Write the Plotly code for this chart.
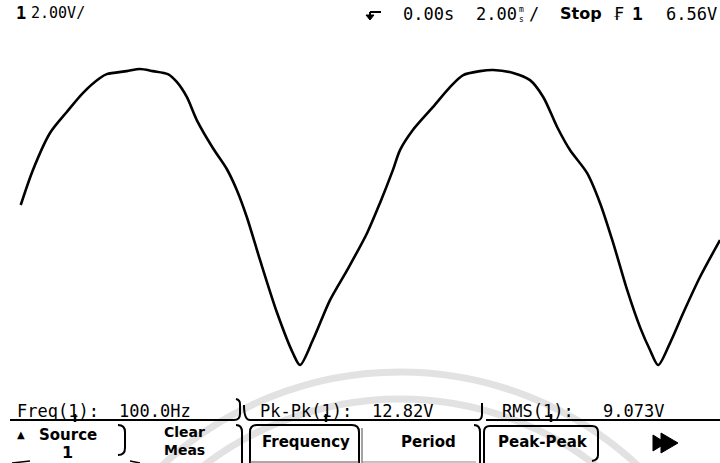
import plotly.graph_objects as go

# ---- data (time in ms, voltage in V) ----
time_ms = [-9.50, -9.16, -8.68, -8.21, -7.76, -7.28, -7.09, -6.53, -6.16, -5.80,
           -5.38, -5.13, -4.85, -4.57, -4.12, -3.73, -3.45, -3.17, -2.80, -2.32,
           -1.88, -1.68, -1.32, -0.84, -0.36, 0.20, 0.56, 0.92, 1.12, 1.48,
           2.04, 2.52, 2.89, 3.36, 3.73, 4.29, 4.76, 5.13, 5.52, 5.88,
           6.36, 6.72, 7.09, 7.48, 7.84, 8.12, 8.35, 8.68, 9.05, 9.52, 10.08]
volts = [8.36, 9.87, 11.48, 12.39, 13.21, 13.86, 14.03, 14.16, 14.25, 14.16,
         14.03, 13.69, 13.04, 12.04, 10.83, 9.92, 9.01, 7.84, 5.98, 3.68,
         1.95, 1.43, 2.51, 4.24, 5.54, 7.15, 8.45, 9.87, 10.74, 11.61,
         12.60, 13.47, 13.99, 14.16, 14.21, 14.08, 13.77, 13.04, 11.74, 10.74,
         9.74, 8.45, 6.71, 4.68, 3.07, 2.08, 1.43, 2.38, 3.68, 5.24, 6.84]

header_left = ["1", "2.00V/"]
header_right = ["0.00s", "2.00", "m", "s", "/", "Stop", "₣", "1", "6.56V"]
meas_labels = ["Freq(1):", "Pk-Pk(1):", "RMS(1):"]
meas_values = ["100.0Hz", "12.82V", "9.073V"]
softkeys = ["Source", "Clear", "Meas", "Frequency", "Period", "Peak-Peak"]

W, H = 720, 463
X_RANGE = [-10.08, 10.08]
Y_RANGE = [-2.815, 17.24]


def px(x):
    return x / W


def py(y):
    return 1 - y / H


fig = go.Figure()
fig.add_trace(go.Scatter(x=time_ms, y=volts, mode="lines",
                         line=dict(color="black", width=2.6, shape="spline", smoothing=0.8),
                         hoverinfo="skip"))

MONO = "DejaVu Sans Mono"
SANS = "DejaVu Sans"
ann = []


def txt(x, y, s, size=17, family=MONO, xanchor="left", bold=False):
    ann.append(dict(x=px(x), y=py(y), xref="paper", yref="paper", text=("<b>%s</b>" % s) if bold else s,
                    showarrow=False, xanchor=xanchor, yanchor="middle",
                    font=dict(family=family, size=size, color="black")))


# header
txt(14, 13, header_left[0], size=17, bold=True)
txt(29, 13, header_left[1], size=15)
txt(401, 14, header_right[0], size=17)
txt(474, 14, header_right[1], size=17)
txt(521, 9, header_right[2], size=8, xanchor="center")
txt(521, 19, header_right[3], size=8, xanchor="center")
txt(527, 14, header_right[4], size=17)
txt(558, 14, header_right[5], size=16, family=SANS, bold=True)
txt(611, 14, header_right[6], size=17, family=SANS)
txt(630, 14, header_right[7], size=18, bold=True)
txt(664, 14, header_right[8], size=17)

# measurements
txt(15, 411, meas_labels[0])
txt(117, 411, meas_values[0])
txt(258, 411, meas_labels[1])
txt(370, 411, meas_values[1])
txt(500, 411, meas_labels[2])
txt(601, 411, meas_values[2])

# softkeys
txt(15, 434, "▲", size=10, family=SANS)
txt(68, 435, softkeys[0], size=15, family=SANS, xanchor="center", bold=True)
txt(67, 452, "1", size=16, family=SANS, xanchor="center", bold=True)
txt(185, 432, softkeys[1], size=14, family=SANS, xanchor="center", bold=True)
txt(185, 450, softkeys[2], size=14, family=SANS, xanchor="center", bold=True)
txt(306, 442, softkeys[3], size=15, family=SANS, xanchor="center", bold=True)
txt(428, 442, softkeys[4], size=15, family=SANS, xanchor="center", bold=True)
txt(543, 442, softkeys[5], size=15, family=SANS, xanchor="center", bold=True)


def path(pts_str, width=2, color="black", fill=None, layer="above"):
    d = dict(type="path", xref="paper", yref="paper", path=pts_str,
             line=dict(color=color, width=width), layer=layer)
    if fill:
        d["fillcolor"] = fill
    return d


def P(cmds):
    out = []
    for c in cmds:
        if isinstance(c, str):
            out.append(c)
        else:
            out.append("%.5f,%.5f" % (px(c[0]), py(c[1])))
    return " ".join(out)


shapes = []
# watermark rings
for r, cy in [(349, 721), (322, 721)]:
    shapes.append(dict(type="circle", xref="paper", yref="paper",
                       x0=px(400 - r), x1=px(400 + r), y0=py(cy + r), y1=py(cy - r),
                       line=dict(color="#e2e2e2", width=7), layer="below"))

# trigger marker
shapes.append(path(P(["M", (370, 12), "L", (381, 12)]), width=2))
shapes.append(path(P(["M", (366, 15), "L", (374, 15), "L", (370, 20), "Z"]), width=1, fill="black"))
shapes.append(path(P(["M", (370, 12), "L", (370, 16)]), width=2))

# measurement underline fields
shapes.append(path(P(["M", (10, 420), "L", (234, 420), "Q", (240, 420), (240, 414),
                      "L", (240, 404), "Q", (240, 400), (236, 399)])))
shapes.append(path(P(["M", (244, 405), "Q", (244, 420), (250, 420), "L", (478, 420),
                      "Q", (482, 420), (482, 414), "L", (482, 403)])))
shapes.append(path(P(["M", (486, 420), "L", (720, 420)]), width=2.2))
# little markers under "(1)"
for xm in [75, 326, 551]:
    shapes.append(path(P(["M", (xm, 414), "L", (xm, 422)]), width=2.5))

# softkey brackets
shapes.append(path(P(["M", (118, 425), "Q", (125, 425), (125, 432), "L", (125, 448),
                      "Q", (125, 455), (118, 455)])))
shapes.append(path(P(["M", (12, 463), "L", (30, 461)]), width=1.5))
shapes.append(path(P(["M", (130, 461), "L", (140, 463)]), width=1.5))
shapes.append(path(P(["M", (236, 425), "Q", (242, 425), (242, 432), "L", (242, 463)])))
shapes.append(path(P(["M", (250, 463), "L", (250, 432), "Q", (250, 425), (257, 425),
                      "L", (352, 425), "Q", (359, 425), (359, 432), "L", (359, 463)])))
shapes.append(path(P(["M", (250, 462), "L", (359, 462)]), width=1.2, color="#555"))
shapes.append(path(P(["M", (362, 428), "L", (362, 463)]), width=1.2, color="#666"))
shapes.append(path(P(["M", (362, 462), "L", (476, 462)]), width=1.0, color="#888"))
shapes.append(path(P(["M", (474, 425), "Q", (480, 425), (480, 432), "L", (480, 463)])))
shapes.append(path(P(["M", (484, 463), "L", (484, 432), "Q", (484, 426), (490, 426),
                      "L", (592, 426), "Q", (598, 426), (598, 432), "L", (598, 455),
                      "Q", (598, 460), (592, 461)])))
# next-page arrow
shapes.append(path(P(["M", (653, 435), "L", (661, 440), "L", (661, 433), "L", (678, 443),
                      "L", (661, 453), "L", (661, 446), "L", (653, 451), "Z"]), width=1, fill="black"))

fig.update_layout(
    width=W, height=H,
    margin=dict(l=0, r=0, t=0, b=0),
    paper_bgcolor="white", plot_bgcolor="white",
    showlegend=False,
    xaxis=dict(range=X_RANGE, visible=False, fixedrange=True),
    yaxis=dict(range=Y_RANGE, visible=False, fixedrange=True),
    annotations=ann,
    shapes=shapes,
)

fig.write_html("out.html", config={"displayModeBar": False},
               post_script="document.body.style.margin='0';document.body.style.overflow='hidden';")
